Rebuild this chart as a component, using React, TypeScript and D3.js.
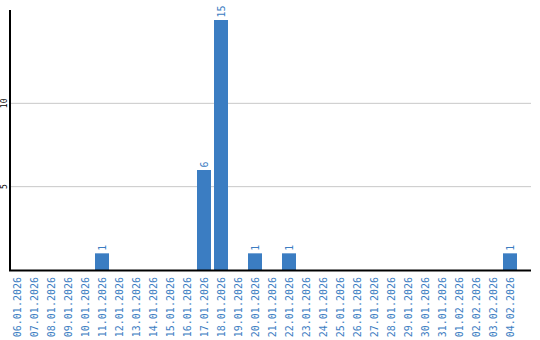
import React from "react";
import * as d3 from "d3";

const dates = [
  "06.01.2026", "07.01.2026", "08.01.2026", "09.01.2026", "10.01.2026",
  "11.01.2026", "12.01.2026", "13.01.2026", "14.01.2026", "15.01.2026",
  "16.01.2026", "17.01.2026", "18.01.2026", "19.01.2026", "20.01.2026",
  "21.01.2026", "22.01.2026", "23.01.2026", "24.01.2026", "25.01.2026",
  "26.01.2026", "27.01.2026", "28.01.2026", "29.01.2026", "30.01.2026",
  "31.01.2026", "01.02.2026", "02.02.2026", "03.02.2026", "04.02.2026",
];
const values = [
  0, 0, 0, 0, 0,
  1, 0, 0, 0, 0,
  0, 6, 15, 0, 1,
  0, 1, 0, 0, 0,
  0, 0, 0, 0, 0,
  0, 0, 0, 0, 1,
];
const yTicks = [5, 10];

const W = 540;
const H = 340;
const BLUE = "#3b7dc2";
const MONO = "'DejaVu Sans Mono', monospace";

export default function App() {
  const x = d3
    .scaleBand<string>()
    .domain(dates)
    .range([10, 517])
    .paddingInner(3 / 17)
    .paddingOuter(0);
  const y = d3.scaleLinear().domain([0, 15.6]).range([270, 10]);
  const bw = x.bandwidth();

  return (
    <svg
      width={W}
      height={H}
      style={{ position: "absolute", left: 0, top: 0, background: "#fff" }}
    >
      {yTicks.map((t) => (
        <g key={t}>
          <line x1={11} x2={531} y1={y(t)} y2={y(t)} stroke="#c8c8c8" strokeWidth={1} />
          <text
            transform={`translate(${4.5},${y(t)}) rotate(-90)`}
            textAnchor="middle"
            dy="0.35em"
            fontFamily={MONO}
            fontSize={8}
            fill="#000"
          >
            {t}
          </text>
        </g>
      ))}
      {dates.map((d, i) =>
        values[i] > 0 ? (
          <rect
            key={d}
            x={x(d)}
            y={y(values[i])}
            width={bw}
            height={y(0) - y(values[i])}
            fill={BLUE}
          />
        ) : null
      )}
      {dates.map((d, i) =>
        values[i] > 0 ? (
          <text
            key={"v" + d}
            transform={`translate(${(x(d) ?? 0) + bw / 2},${y(values[i]) - 2.5}) rotate(-90)`}
            textAnchor="start"
            dy="0.35em"
            fontFamily={MONO}
            fontSize={10}
            fill={BLUE}
          >
            {values[i]}
          </text>
        ) : null
      )}
      <line x1={10} x2={10} y1={10} y2={271} stroke="#000" strokeWidth={2} />
      <line x1={9} x2={531} y1={270.5} y2={270.5} stroke="#000" strokeWidth={2} />
      {dates.map((d) => (
        <text
          key={"l" + d}
          transform={`translate(${(x(d) ?? 0) + bw / 2},${277}) rotate(-90)`}
          textAnchor="end"
          dy="0.35em"
          fontFamily={MONO}
          fontSize={10}
          fill={BLUE}
        >
          {d}
        </text>
      ))}
    </svg>
  );
}
